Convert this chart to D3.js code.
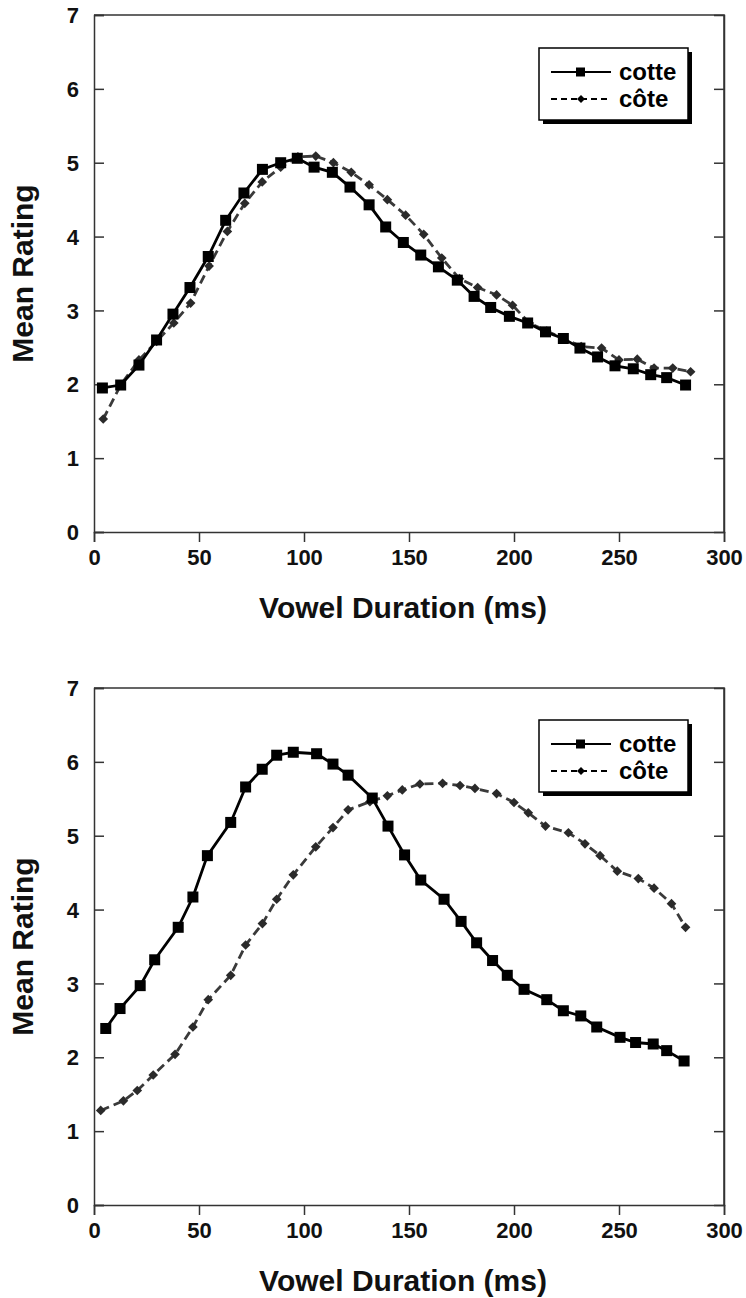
<!DOCTYPE html>
<html lang="en">
<head>
    <meta charset="UTF-8">
    <title>Mean Rating by Vowel Duration</title>
    <script src="https://cdn.jsdelivr.net/npm/d3@7"></script>
    <style>
        body { margin: 0; background: #fff; }
        svg { display: block; font-family: "Liberation Sans", Arial, sans-serif; }
    </style>
</head>
<body>
    <svg width="746" height="1298"></svg>

    <script>
        // values
        const xTicks = [0, 50, 100, 150, 200, 250, 300];
        const yTicks = [0, 1, 2, 3, 4, 5, 6, 7];
        const seriesNames = ['cotte', 'côte'];

        const topCotteX = [4, 12.7, 21.4, 29.8, 37.6, 45.7, 54.4, 62.7, 71.4, 80.2, 88.9, 96.8, 104.8, 113.5, 121.9, 131, 138.9, 147.3,
            155.6, 164, 173, 181, 188.9, 197.8, 206.5, 215, 223.5, 231.4, 239.8, 248.1, 256.8, 265.1, 272.7, 281.7];
        const topCotteY = [1.95, 1.99, 2.26, 2.6, 2.95, 3.31, 3.73, 4.22, 4.59, 4.91, 5.0, 5.06, 4.94, 4.87, 4.67, 4.43, 4.13, 3.92,
            3.75, 3.59, 3.41, 3.19, 3.04, 2.92, 2.83, 2.71, 2.62, 2.49, 2.37, 2.25, 2.21, 2.13, 2.09, 1.99];
        const topCoteX = [4.4, 12.7, 21.4, 29.8, 38, 46, 54.8, 63.5, 71.8, 80.1, 88.9, 97.1, 105.6, 114, 122.5, 131, 139.7, 148.4,
            157, 165.6, 174, 182.7, 191.7, 199.3, 207.3, 215.6, 223.5, 232, 241.7, 250, 258.7, 266.7, 275.6, 284.1];
        const topCoteY = [1.53, 1.99, 2.33, 2.58, 2.83, 3.1, 3.6, 4.07, 4.45, 4.74, 4.94, 5.08, 5.09, 5.0, 4.87, 4.7, 4.5, 4.29,
            4.03, 3.71, 3.43, 3.31, 3.21, 3.07, 2.83, 2.72, 2.62, 2.51, 2.49, 2.33, 2.34, 2.22, 2.22, 2.17];

        const bottomCotteX = [5.6, 12.4, 22, 28.9, 40.1, 47.1, 54, 65.1, 72.2, 80.1, 87, 94.9, 106, 113.8, 121, 132.5, 140, 147.9,
            155.6, 166.7, 174.8, 182.2, 189.8, 196.8, 204.8, 215.6, 223.5, 231.8, 239.4, 250.5, 257.9, 266.3, 272.7, 281];
        const bottomCotteY = [2.39, 2.66, 2.97, 3.32, 3.76, 4.17, 4.73, 5.18, 5.66, 5.9, 6.09, 6.13, 6.11, 5.97, 5.82, 5.51, 5.13, 4.74,
            4.4, 4.14, 3.84, 3.55, 3.31, 3.11, 2.92, 2.78, 2.63, 2.56, 2.41, 2.27, 2.2, 2.18, 2.09, 1.95];
        const bottomCoteX = [3.2, 14, 20.6, 28.2, 38.6, 47.1, 54.4, 65.1, 72.2, 80.2, 87, 94.9, 105.6, 113.8, 121, 131.4, 139.7, 146.8,
            155.2, 166, 174.3, 181.4, 191.7, 200, 206.8, 215, 225.9, 233.8, 241, 249.2, 259.2, 266.7, 275, 281.7];
        const bottomCoteY = [1.28, 1.41, 1.55, 1.76, 2.04, 2.41, 2.78, 3.11, 3.52, 3.81, 4.14, 4.47, 4.85, 5.11, 5.35, 5.46, 5.54, 5.62,
            5.7, 5.71, 5.68, 5.64, 5.57, 5.45, 5.31, 5.13, 5.04, 4.89, 4.73, 4.52, 4.42, 4.29, 4.08, 3.76];

        const svg = d3.select('svg');
        const axisColor = '#333';
        const w = 630, h = 517;

        const x = d3.scaleLinear().domain([0, 300]).range([0, w]);
        const y = d3.scaleLinear().domain([0, 7]).range([h, 0]);
        const fmt = d3.format('d');

        function drawPanel(top, cx, cy, kx, ky, legendTop) {
            const g = svg.append('g').attr('transform', `translate(94, ${top})`);

            // frame top / right
            g.append('path')
                .attr('d', `M0,0H${w}V${h}`)
                .attr('fill', 'none')
                .attr('stroke', axisColor)
                .attr('stroke-width', 1.5);

            // left axis, ticks inward
            const yl = g.append('g').call(d3.axisLeft(y).tickValues(yTicks).tickFormat(fmt).tickSize(-10).tickPadding(15));
            // right axis, ticks inward, no labels
            const yr = g.append('g').attr('transform', `translate(${w},0)`)
                .call(d3.axisRight(y).tickValues(yTicks.slice(1, -1)).tickSize(-10).tickFormat(''));
            const xb = g.append('g').attr('transform', `translate(0,${h})`)
                .call(d3.axisBottom(x).tickValues(xTicks).tickFormat(fmt).tickSize(10).tickPadding(7));

            [yl, yr, xb].forEach(a => {
                a.select('.domain').attr('stroke', axisColor).attr('stroke-width', 1.5);
                a.selectAll('.tick line').attr('stroke', axisColor).attr('stroke-width', 1.5);
                a.selectAll('.tick text')
                    .attr('fill', '#111')
                    .style('font-size', '22px')
                    .style('font-weight', 'bold');
            });
            yl.selectAll('.tick text').attr('dy', '0.35em');

            // axis titles
            g.append('text')
                .attr('transform', `translate(-72, ${h / 2}) rotate(-90)`)
                .attr('text-anchor', 'middle')
                .attr('dy', '0.35em')
                .style('font-size', '30px')
                .style('font-weight', 'bold')
                .attr('fill', '#111')
                .text('Mean Rating');
            g.append('text')
                .attr('x', w / 2 - 6)
                .attr('y', h + 86)
                .attr('text-anchor', 'middle')
                .style('font-size', '30px')
                .style('font-weight', 'bold')
                .attr('fill', '#111')
                .text('Vowel Duration (ms)');

            const cotte = cx.map((v, i) => [v, cy[i]]);
            const cote = kx.map((v, i) => [v, ky[i]]);
            const line = d3.line().x(d => x(d[0])).y(d => y(d[1]));

            // côte: dashed grey with diamonds
            g.append('path')
                .datum(cote)
                .attr('d', line)
                .attr('fill', 'none')
                .attr('stroke', '#3a3a3a')
                .attr('stroke-width', 2.8)
                .attr('stroke-dasharray', '9,5');
            g.selectAll('path.diamond')
                .data(cote).enter().append('path')
                .classed('diamond', true)
                .attr('d', d3.symbol(d3.symbolDiamond2, 60))
                .attr('fill', '#2a2a2a')
                .attr('transform', d => `translate(${x(d[0])},${y(d[1])})`);

            // cotte: solid black with squares
            g.append('path')
                .datum(cotte)
                .attr('d', line)
                .attr('fill', 'none')
                .attr('stroke', '#000')
                .attr('stroke-width', 2.8);
            g.selectAll('rect.sq')
                .data(cotte).enter().append('rect')
                .classed('sq', true)
                .attr('x', d => x(d[0]) - 5.5)
                .attr('y', d => y(d[1]) - 5.5)
                .attr('width', 11)
                .attr('height', 11)
                .attr('fill', '#000');

            // legend
            const lg = g.append('g').attr('transform', `translate(445, ${legendTop})`);
            lg.append('rect')
                .attr('x', 4).attr('y', 4)
                .attr('width', 149).attr('height', 72)
                .attr('fill', '#000');
            lg.append('rect')
                .attr('width', 149).attr('height', 72)
                .attr('fill', '#fff')
                .attr('stroke', '#000')
                .attr('stroke-width', 1.5);

            const rowY = [24, 51];
            lg.append('line')
                .attr('x1', 12).attr('x2', 72)
                .attr('y1', rowY[0]).attr('y2', rowY[0])
                .attr('stroke', '#000').attr('stroke-width', 2);
            lg.append('rect')
                .attr('x', 37).attr('y', rowY[0] - 4.5)
                .attr('width', 9).attr('height', 9)
                .attr('fill', '#000');
            lg.append('line')
                .attr('x1', 12).attr('x2', 72)
                .attr('y1', rowY[1]).attr('y2', rowY[1])
                .attr('stroke', '#000').attr('stroke-width', 2)
                .attr('stroke-dasharray', '6,4');
            lg.append('path')
                .attr('d', d3.symbol(d3.symbolDiamond2, 40))
                .attr('transform', `translate(42,${rowY[1]})`)
                .attr('fill', '#000');

            lg.selectAll('text.lab')
                .data(seriesNames).enter().append('text')
                .classed('lab', true)
                .attr('x', 80)
                .attr('y', (d, i) => rowY[i])
                .attr('dy', '0.35em')
                .style('font-size', '24px')
                .style('font-weight', 'bold')
                .attr('fill', '#000')
                .text(d => d);
        }

        drawPanel(15, topCotteX, topCotteY, topCoteX, topCoteY, 33);
        drawPanel(688, bottomCotteX, bottomCotteY, bottomCoteX, bottomCoteY, 32);
    </script>
</body>
</html>
